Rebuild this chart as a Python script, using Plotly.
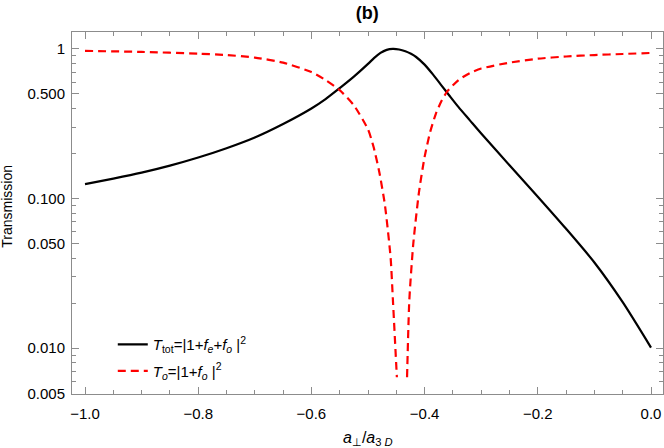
import plotly.graph_objects as go

# Black curve: T_tot = |1+f_e+f_o|^2
tot_x = [-1.0, -0.95, -0.9, -0.85, -0.8, -0.75, -0.7, -0.65, -0.6, -0.575, -0.55,
         -0.525, -0.5, -0.489, -0.478, -0.467, -0.456, -0.445, -0.434, -0.424, -0.415,
         -0.4, -0.385, -0.37, -0.355, -0.34, -0.32, -0.3, -0.25, -0.2, -0.15, -0.1,
         -0.05, 0.0]
tot_y = [0.125, 0.136, 0.149, 0.166, 0.188, 0.217, 0.256, 0.315, 0.40, 0.462, 0.547,
         0.653, 0.794, 0.871, 0.94, 0.986, 1.0, 0.991, 0.964, 0.927, 0.883,
         0.785, 0.673, 0.569, 0.481, 0.408, 0.333, 0.272, 0.167, 0.103, 0.0628, 0.0374,
         0.0203, 0.0101]

# Red dashed curve: T_o = |1+f_o|^2
o_x = [-1.0, -0.9, -0.8, -0.75, -0.7, -0.65, -0.6, -0.575, -0.55, -0.525, -0.5,
       -0.49, -0.48, -0.47, -0.46, -0.456, -0.449, None, -0.431, -0.427, -0.42,
       -0.41, -0.4, -0.39, -0.38, -0.37, -0.36, -0.34, -0.32, -0.3, -0.25, -0.2,
       -0.15, -0.1, -0.05, 0.0]
o_y = [0.97, 0.955, 0.93, 0.91, 0.875, 0.81, 0.70, 0.62, 0.53, 0.42, 0.29,
       0.22, 0.15, 0.09, 0.04, 0.021, 0.0064, None, 0.0064, 0.021, 0.05,
       0.11, 0.19, 0.28, 0.37, 0.45, 0.52, 0.62, 0.69, 0.74, 0.81, 0.86,
       0.89, 0.91, 0.925, 0.94]

y_tickvals = [0.005, 0.01, 0.05, 0.1, 0.5, 1]
y_ticktext = ["0.005", "0.010", "0.050", "0.100", "0.500", "1"]
y_minor = [0.006, 0.007, 0.008, 0.009, 0.02, 0.03, 0.04, 0.06, 0.07, 0.08, 0.09,
           0.2, 0.3, 0.4, 0.6, 0.7, 0.8, 0.9]
x_tickvals = [-1.0, -0.8, -0.6, -0.4, -0.2, 0.0]
x_ticktext = ["\u22121.0", "\u22120.8", "\u22120.6", "\u22120.4", "\u22120.2", "0.0"]
x_minor = [-0.95, -0.9, -0.85, -0.75, -0.7, -0.65, -0.55, -0.5,
           -0.45, -0.35, -0.3, -0.25, -0.15, -0.1, -0.05]

FONT = "Liberation Sans, Arial, Helvetica, sans-serif"
FRAME = "#8c8c8c"
FS = 15

fig = go.Figure()
fig.add_trace(go.Scatter(
    x=tot_x, y=tot_y, mode="lines", legendgroup="a",
    line=dict(color="black", width=2.2, shape="spline", smoothing=0.7),
    name="<i>T</i><sub>tot</sub>=|1+<i>f<sub>e</sub></i>+<i>f<sub>o</sub></i> |<sup>2</sup>",
))
fig.add_trace(go.Scatter(
    x=o_x, y=o_y, mode="lines", connectgaps=False, legendgroup="b",
    line=dict(color="#ff0000", width=2.2, dash="8px,5px", shape="spline", smoothing=0.6),
    name="<i>T<sub>o</sub></i>=|1+<i>f<sub>o</sub></i> |<sup>2</sup>",
))

fig.update_layout(
    width=664, height=448,
    margin=dict(l=72, r=1, t=32, b=54, autoexpand=False),
    paper_bgcolor="white", plot_bgcolor="white",
    font=dict(family=FONT, size=FS, color="black"),
    title=dict(text="<b>(b)</b>", x=0.553, xanchor="center", y=0.971, yanchor="middle",
               font=dict(size=18, family=FONT)),
    showlegend=True,
    legend=dict(x=0.069, y=0.182, xanchor="left", yanchor="top",
                bgcolor="rgba(0,0,0,0)", font=dict(size=FS, family=FONT),
                traceorder="grouped", tracegroupgap=4, itemwidth=30),
    xaxis=dict(
        range=[-1.023, 0.0212], showgrid=False, zeroline=False, automargin=False,
        showline=True, linecolor=FRAME, linewidth=1, mirror="allticks",
        ticks="inside", ticklen=7, tickcolor=FRAME, tickwidth=1,
        tickmode="array", tickvals=x_tickvals, ticktext=x_ticktext,
        ticklabelstandoff=6,
        minor=dict(ticks="inside", ticklen=4, tickcolor=FRAME, tickwidth=1,
                   tickmode="array", tickvals=x_minor),
    ),
    yaxis=dict(
        type="log", range=[-2.306, 0.113], showgrid=False, zeroline=False, automargin=False,
        showline=True, linecolor=FRAME, linewidth=1, mirror="allticks",
        ticks="inside", ticklen=7, tickcolor=FRAME, tickwidth=1,
        tickmode="array", tickvals=y_tickvals, ticktext=y_ticktext,
        ticklabelstandoff=3,
        minor=dict(ticks="inside", ticklen=4, tickcolor=FRAME, tickwidth=1,
                   tickmode="array", tickvals=y_minor),
    ),
    annotations=[
        dict(text="Transmission", xref="paper", yref="paper", x=-0.11, y=0.52,
             xanchor="center", yanchor="middle", textangle=-90, showarrow=False,
             font=dict(size=14, family=FONT)),
        dict(text="<i>a</i><sub>\u22a5</sub>/<i>a</i><sub>3 <i>D</i></sub>",
             xref="paper", yref="paper", x=0.5, y=-0.124,
             xanchor="center", yanchor="middle", showarrow=False,
             font=dict(size=FS + 1, family=FONT)),
    ],
)

fig.write_html(
    "out.html",
    config={"displayModeBar": False},
    post_script="document.body.style.margin='0';document.body.style.overflow='hidden';",
)
